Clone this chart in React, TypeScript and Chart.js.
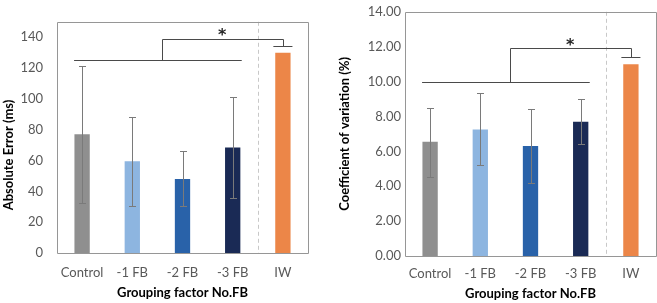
import React, { useEffect, useRef } from 'react';
import { Chart, registerables } from 'chart.js';

Chart.register(...registerables);

// ---------- data ----------
const categories = ['Control', '-1 FB', '-2 FB', '-3 FB', 'IW'];
const barColors = ['#8f8f8f', '#8db5e0', '#2962a9', '#1a2a55', '#ec8648'];

// Left panel: absolute error (ms)
const errorMeans = [77, 59.5, 48, 68.5, 130];
const errorLow = [32.5, 30.5, 30.5, 35.5, null];
const errorHigh = [121.5, 88.5, 66.5, 101, null];
const errorBracket = [125, 139, 134]; // group line, top line, end cap
const errorStar = 144;

// Right panel: coefficient of variation (%)
const cvMeans = [6.55, 7.25, 6.3, 7.7, 11.0];
const cvLow = [4.55, 5.2, 4.2, 6.4, null];
const cvHigh = [8.5, 9.35, 8.4, 9.0, null];
const cvBracket = [10, 11.9, 11.4];
const cvStar = 12.33;

// bracket x positions in category index units
const bracketGroupX = [-0.16, 3.18];
const bracketStemX = 1.59;
const bracketEndX = 4.0;
const bracketCapHalf = 0.19;
const starX = 2.79;
const dividerX = 3.5;

const FONT = 'Lato, "Open Sans", "DejaVu Sans", sans-serif';
const STAR_FONT_SIZE = 16;

type Spec = {
  width: number;
  means: number[];
  low: (number | null)[];
  high: (number | null)[];
  bracket: number[];
  star: number;
  max: number;
  step: number;
  decimals: boolean;
  yTitle: string;
  yTitleX: number;
  yTitleY: number | null;
  xTitleY: number;
  padTop: number;
  padRight: number;
  yWidth: number;
  xHeight: number;
  yPad: number;
  xPad: number;
};

const leftSpec: Spec = {
  width: 330,
  means: errorMeans,
  low: errorLow,
  high: errorHigh,
  bracket: errorBracket,
  star: errorStar,
  max: 150,
  step: 20,
  decimals: false,
  yTitle: 'Absolute Error (ms)',
  yTitleX: 8.5,
  yTitleY: 155,
  xTitleY: 293.3,
  padTop: 3,
  padRight: 22,
  yWidth: 57,
  xHeight: 50,
  yPad: 14,
  xPad: 12,
};

const rightSpec: Spec = {
  width: 327,
  means: cvMeans,
  low: cvLow,
  high: cvHigh,
  bracket: cvBracket,
  star: cvStar,
  max: 14,
  step: 2,
  decimals: true,
  yTitle: 'Coefficient of variation (%)',
  yTitleX: 14.5,
  yTitleY: null,
  xTitleY: 294.3,
  padTop: 5,
  padRight: 1,
  yWidth: 75,
  xHeight: 47,
  yPad: 4,
  xPad: 10,
};

const px = (v: number) => Math.round(v) + 0.5;

function makePlugin(spec: Spec) {
  return {
    id: 'annot',
    beforeDatasetsDraw(chart: any) {
      const { ctx, chartArea, scales } = chart;
      const x = px(scales.x.getPixelForValue(dividerX));
      ctx.save();
      ctx.strokeStyle = '#c8c8c8';
      ctx.lineWidth = 1;
      ctx.setLineDash([4, 3]);
      ctx.beginPath();
      ctx.moveTo(x, chartArea.top);
      ctx.lineTo(x, chartArea.bottom);
      ctx.stroke();
      ctx.restore();
    },
    afterDatasetsDraw(chart: any) {
      const { ctx, chartArea, scales } = chart;
      const xs = scales.x;
      const ys = scales.y;
      ctx.save();
      // error bars
      ctx.strokeStyle = '#7a7a7a';
      ctx.lineWidth = 1;
      for (let i = 0; i < spec.means.length; i++) {
        const lo = spec.low[i];
        const hi = spec.high[i];
        if (lo == null || hi == null) continue;
        const cx = px(xs.getPixelForValue(i));
        const yl = px(ys.getPixelForValue(lo));
        const yh = px(ys.getPixelForValue(hi));
        ctx.beginPath();
        ctx.moveTo(cx, yl);
        ctx.lineTo(cx, yh);
        ctx.moveTo(cx - 3.5, yl);
        ctx.lineTo(cx + 3.5, yl);
        ctx.moveTo(cx - 3.5, yh);
        ctx.lineTo(cx + 3.5, yh);
        ctx.stroke();
      }
      // significance bracket
      ctx.strokeStyle = '#4a4a4a';
      const [base, top, end] = spec.bracket;
      const yb = px(ys.getPixelForValue(base));
      const yt = px(ys.getPixelForValue(top));
      const ye = px(ys.getPixelForValue(end));
      const gx0 = xs.getPixelForValue(bracketGroupX[0]);
      const gx1 = xs.getPixelForValue(bracketGroupX[1]);
      const sx = px(xs.getPixelForValue(bracketStemX));
      const ex = px(xs.getPixelForValue(bracketEndX));
      const c0 = xs.getPixelForValue(bracketEndX - bracketCapHalf);
      const c1 = xs.getPixelForValue(bracketEndX + bracketCapHalf);
      ctx.beginPath();
      ctx.moveTo(gx0, yb);
      ctx.lineTo(gx1, yb);
      ctx.moveTo(sx, yb);
      ctx.lineTo(sx, yt);
      ctx.lineTo(ex, yt);
      ctx.lineTo(ex, ye);
      ctx.moveTo(c0, ye);
      ctx.lineTo(c1, ye);
      ctx.stroke();
      // star (DejaVu asterisk centre sits ~0.55em above the baseline)
      ctx.fillStyle = '#262626';
      ctx.font = `bold ${STAR_FONT_SIZE}px "DejaVu Sans", sans-serif`;
      ctx.textAlign = 'center';
      ctx.textBaseline = 'alphabetic';
      ctx.fillText(
        '*',
        xs.getPixelForValue(starX),
        ys.getPixelForValue(spec.star) + STAR_FONT_SIZE * 0.55
      );
      // frame
      ctx.strokeStyle = '#969696';
      ctx.beginPath();
      ctx.rect(
        px(chartArea.left),
        px(chartArea.top),
        Math.round(chartArea.right - chartArea.left),
        Math.round(chartArea.bottom - chartArea.top)
      );
      ctx.stroke();
      // axis titles
      ctx.fillStyle = '#000000';
      ctx.font = `bold 13px ${FONT}`;
      ctx.textAlign = 'center';
      ctx.textBaseline = 'middle';
      ctx.fillText('Grouping factor No.FB', (chartArea.left + chartArea.right) / 2, spec.xTitleY);
      ctx.save();
      const ty = spec.yTitleY == null ? (chartArea.top + chartArea.bottom) / 2 : spec.yTitleY;
      ctx.translate(spec.yTitleX, ty);
      ctx.rotate(-Math.PI / 2);
      ctx.fillText(spec.yTitle, 0, 0);
      ctx.restore();
      ctx.restore();
    },
  };
}

function Panel({ spec }: { spec: Spec }) {
  const ref = useRef<HTMLCanvasElement | null>(null);
  useEffect(() => {
    if (!ref.current) return;
    const chart = new Chart(ref.current, {
      type: 'bar',
      data: {
        labels: categories,
        datasets: [
          {
            data: spec.means,
            backgroundColor: barColors,
            borderWidth: 0,
            barPercentage: 0.305,
            categoryPercentage: 1,
          },
        ],
      },
      options: {
        responsive: false,
        animation: false,
        devicePixelRatio: 1,
        layout: {
          autoPadding: false,
          padding: { left: 0, right: spec.padRight, top: spec.padTop, bottom: 0 },
        },
        plugins: { legend: { display: false }, tooltip: { enabled: false } },
        scales: {
          x: {
            type: 'category',
            offset: true,
            grid: { display: false, drawTicks: false },
            border: { display: false },
            ticks: {
              color: '#595959',
              font: { family: FONT, size: 13 },
              padding: spec.xPad,
              maxRotation: 0,
              autoSkip: false,
            },
            afterFit: (s: any) => {
              s.height = spec.xHeight;
            },
          },
          y: {
            min: 0,
            max: spec.max,
            grid: { display: false, drawTicks: false },
            border: { display: false },
            ticks: {
              stepSize: spec.step,
              includeBounds: false,
              padding: spec.yPad,
              color: '#595959',
              font: { family: FONT, size: 13 },
              callback: (v: any) => (spec.decimals ? Number(v).toFixed(2) : String(v)),
            },
            afterFit: (s: any) => {
              s.width = spec.yWidth;
            },
          },
        },
      } as any,
      plugins: [makePlugin(spec)],
    });
    return () => chart.destroy();
  }, [spec]);
  return (
    <canvas
      ref={ref}
      width={spec.width}
      height={303}
      style={{ display: 'block', width: spec.width, height: 303 }}
    />
  );
}

export default function App() {
  return (
    <div
      style={{
        position: 'absolute',
        left: 0,
        top: 0,
        width: 657,
        height: 303,
        display: 'flex',
        background: '#ffffff',
      }}
    >
      <Panel spec={leftSpec} />
      <Panel spec={rightSpec} />
    </div>
  );
}
